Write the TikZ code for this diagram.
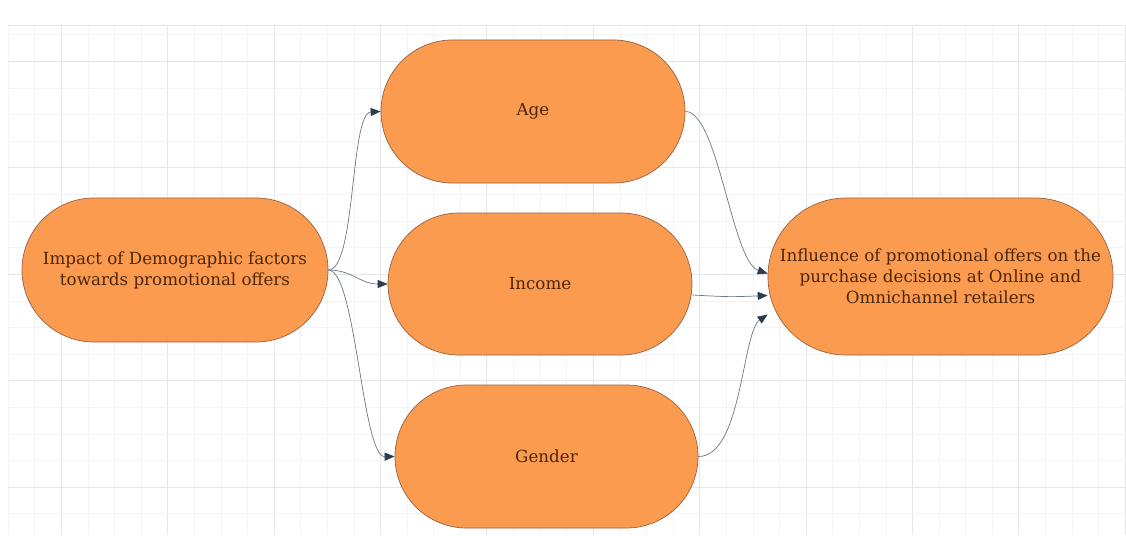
\documentclass[tikz,border=0pt]{standalone}
\usepackage{fontspec}
\setmainfont{DejaVu Serif}
\usetikzlibrary{arrows.meta}
\definecolor{boxfill}{HTML}{FB9B50}
\definecolor{boxline}{HTML}{9A6040}
\definecolor{txt}{HTML}{4E260A}
\definecolor{edgecol}{HTML}{6A7888}
\definecolor{tipcol}{HTML}{2E3D4E}
\definecolor{gridminor}{HTML}{F3F3F3}
\definecolor{gridmajor}{HTML}{E6E6E6}
\begin{document}
\begin{tikzpicture}[x=1pt,y=-1pt,
  pill/.style={draw=boxline, fill=boxfill, line width=0.7pt, text=txt,
    font=\fontsize{16.7}{21}\selectfont, align=center, inner sep=0pt},
  conn/.style={draw=edgecol, line width=0.7pt,
    -{Triangle[length=10pt,width=8pt,fill=tipcol,color=tipcol]}}]
% background and grid
\fill[white] (0,0) rectangle (1126,535);
\useasboundingbox (0,0) rectangle (1126,535);
\foreach \k in {0,...,42}{
  \pgfmathsetmacro{\xx}{8+\k*26.6}
  \pgfmathtruncatemacro{\m}{mod(\k,4)}
  \ifnum\m=2
    \draw[gridmajor, line width=0.8pt] (\xx,25) -- (\xx,535);
  \else
    \draw[gridminor, line width=0.6pt] (\xx,25) -- (\xx,535);
  \fi
}
\foreach \k in {-1,...,17}{
  \pgfmathsetmacro{\yy}{487-\k*26.6}
  \pgfmathtruncatemacro{\m}{mod(\k+4,4)}
  \ifnum\m=0
    \draw[gridmajor, line width=0.8pt] (8,\yy) -- (1126,\yy);
  \else
    \draw[gridminor, line width=0.6pt] (8,\yy) -- (1126,\yy);
  \fi
}
\draw[gridmajor, line width=0.8pt] (8,25) -- (1126,25);
% nodes
\node[pill, minimum width=306pt, minimum height=144pt, rounded corners=72pt]
  (L) at (175,270) {Impact of Demographic factors\\towards promotional offers};
\node[pill, minimum width=304pt, minimum height=143pt, rounded corners=71.5pt]
  (A) at (533,111.5) {Age};
\node[pill, minimum width=304pt, minimum height=142pt, rounded corners=71pt]
  (I) at (540,284) {Income};
\node[pill, minimum width=303pt, minimum height=143pt, rounded corners=71.5pt]
  (G) at (546.5,456.5) {Gender};
\node[pill, minimum width=345pt, minimum height=157pt, rounded corners=78pt]
  (R) at (940.5,276.5) {Influence of promotional offers on the\\purchase decisions at Online and\\Omnichannel retailers};
% connectors
\draw[conn] (L.east) .. controls (356,270) and (350,113) .. (A.west);
\draw[conn] (L.east) .. controls (352,270) and (360,284) .. (I.west);
\draw[conn] (L.east) .. controls (356,270) and (362,457) .. (G.west);
\draw[conn] (A.east) .. controls (718,111) and (732,262) .. ([yshift=3pt]R.west);
\draw[conn] ([yshift=-11pt]I.east) .. controls (730,297) .. ([yshift=-19pt]R.west);
\draw[conn] (G.east) .. controls (742,457) and (742,332) .. ([yshift=-38pt]R.west);
\end{tikzpicture}
\end{document}
